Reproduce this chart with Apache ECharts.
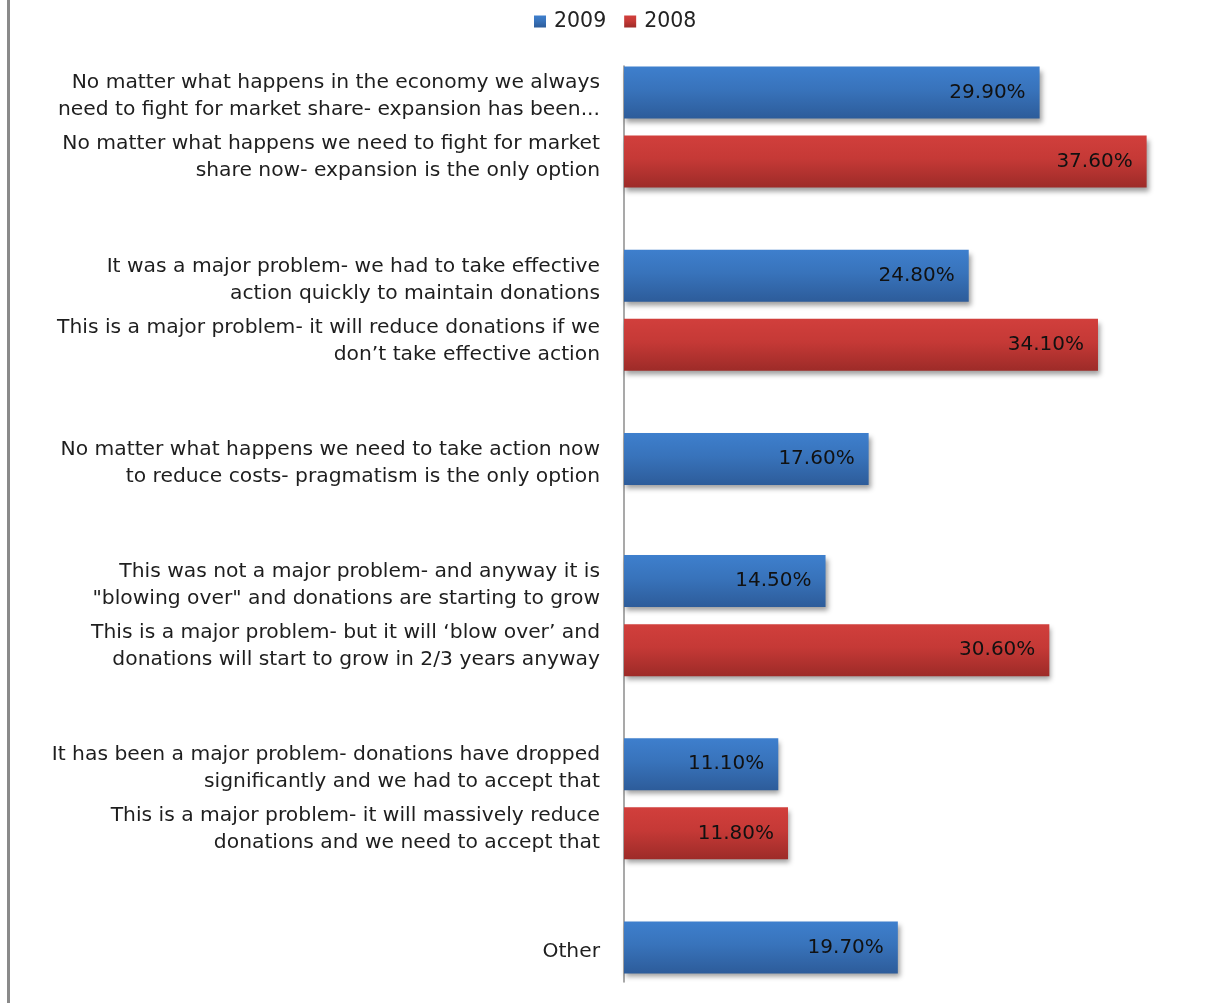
<!DOCTYPE html>
<html>
<head>
<meta charset="utf-8">
<script src="https://cdn.jsdelivr.net/npm/echarts@6/dist/echarts.min.js"></script>
<style>
  html, body { margin: 0; padding: 0; background: #fff; }
  #chart { width: 1208px; height: 1003px; }
</style>
</head>
<body>
<div id="chart"></div>
<script>
// One row per survey answer; blank rows separate the answer groups.
const categories = [
  'No matter what happens in the economy we always\nneed to fight for market share- expansion has been...',
  'No matter what happens we need to fight for market\nshare now- expansion is the only option',
  '',
  'It was a major problem- we had to take effective\naction quickly to maintain donations',
  'This is a major problem- it will reduce donations if we\ndon\u2019t take effective action',
  '',
  'No matter what happens we need to take action now\nto reduce costs- pragmatism is the only option',
  '',
  'This was not a major problem- and anyway it is\n"blowing over" and donations are starting to grow',
  'This is a major problem- but it will \u2018blow over\u2019 and\ndonations will start to grow in 2/3 years anyway',
  '',
  'It has been a major problem- donations have dropped\nsignificantly and we had to accept that',
  'This is a major problem- it will massively reduce\ndonations and we need to accept that',
  '',
  'Other'
];

// Share of respondents (%) per row; null where the year has no answer.
const values2009 = [29.9, null, null, 24.8, null, null, 17.6, null, 14.5, null, null, 11.1, null, null, 19.7];
const values2008 = [null, 37.6, null, null, 34.1, null, null, null, null, 30.6, null, null, 11.8, null, null];

const seriesNames = ['2009', '2008'];

const FONT = '"DejaVu Sans", sans-serif';

function barGradient(top, mid, bottom) {
  return new echarts.graphic.LinearGradient(0, 0, 0, 1, [
    { offset: 0, color: top },
    { offset: 0.45, color: mid },
    { offset: 1, color: bottom }
  ]);
}

const blueFill = barGradient('#3e7fcd', '#3873bb', '#2d5c9a');
const redFill = barGradient('#d13f3c', '#c53936', '#9d2b28');

const valueLabel = {
  show: true,
  position: 'insideRight',
  distance: 14,
  color: '#111',
  fontFamily: FONT,
  fontSize: 20,
  formatter: p => p.value.toFixed(2) + '%'
};

const barShadow = {
  shadowColor: 'rgba(0,0,0,0.38)',
  shadowBlur: 5,
  shadowOffsetX: 2,
  shadowOffsetY: 4
};

const chart = echarts.init(document.getElementById('chart'), null, { renderer: 'canvas' });

chart.setOption({
  animation: false,
  backgroundColor: '#fff',
  legend: {
    top: 6,
    left: 529,
    icon: 'rect',
    itemWidth: 12,
    itemHeight: 12,
    itemGap: 18,
    textStyle: { fontFamily: FONT, fontSize: 20.5, color: '#222', padding: [0, 0, 0, 3] },
    data: seriesNames
  },
  grid: { left: 624, right: 28, top: 66, bottom: 21, containLabel: false },
  xAxis: {
    type: 'value',
    min: 0,
    max: 40,
    show: false
  },
  yAxis: {
    type: 'category',
    inverse: true,
    data: categories,
    axisLine: { show: true, lineStyle: { color: '#8c8c8c', width: 1.5 } },
    axisTick: { show: false },
    axisLabel: {
      interval: 0,
      margin: 24,
      fontFamily: FONT,
      fontSize: 20.3,
      lineHeight: 27,
      color: '#1e1e1e',
      align: 'right'
    }
  },
  series: [
    {
      name: seriesNames[0],
      type: 'bar',
      data: values2009,
      barWidth: 52,
      barGap: '-84.6%',
      itemStyle: Object.assign({ color: blueFill }, barShadow),
      label: valueLabel
    },
    {
      name: seriesNames[1],
      type: 'bar',
      data: values2008,
      barWidth: 52,
      itemStyle: Object.assign({ color: redFill }, barShadow),
      label: valueLabel
    }
  ],
  graphic: [
    {
      type: 'rect',
      left: 7,
      top: 0,
      shape: { width: 3, height: 1003 },
      style: { fill: '#8a8a8a' },
      silent: true
    }
  ]
});
</script>
</body>
</html>
